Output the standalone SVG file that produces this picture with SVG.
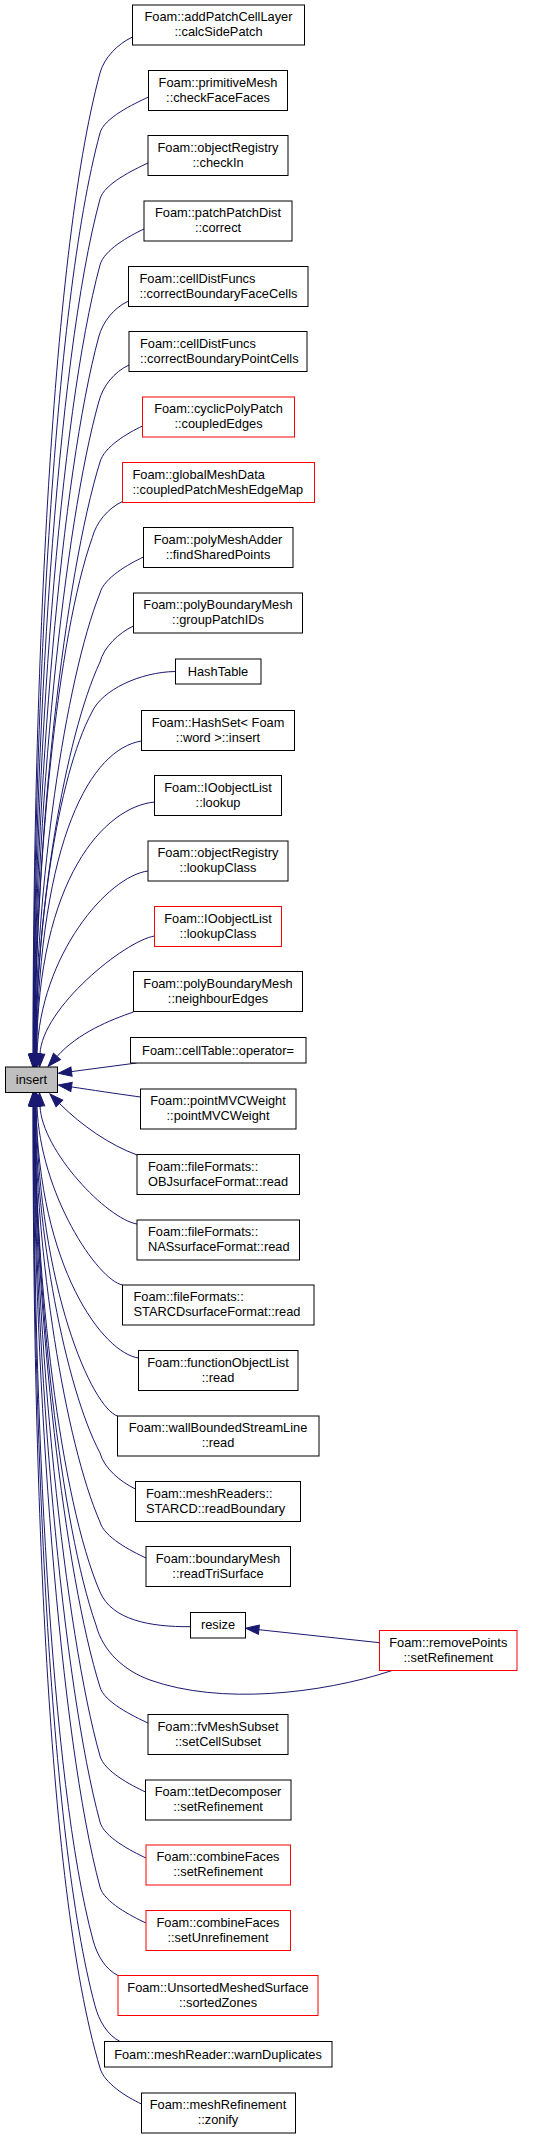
<svg xmlns="http://www.w3.org/2000/svg" width="533" height="2139" viewBox="0 0 533 2139">
<style>
.node rect{fill:#fff;stroke:#000;stroke-width:1}
.node.red rect{stroke:#ff0000}
.node.root rect{fill:#bfbfbf}
.node text{font-family:"Liberation Sans",Arial,Helvetica,sans-serif;font-size:12.8px;fill:#000;text-anchor:middle}
.node.left text{text-anchor:start}
#edges path{fill:none;stroke:#191970;stroke-width:1;marker-end:url(#ah)}
</style>
<defs>
<marker id="ah" markerUnits="userSpaceOnUse" markerWidth="14" markerHeight="10" refX="0" refY="4.7" orient="auto" overflow="visible">
<path d="M0,0 L13.3,4.7 L0,9.4 Z" fill="#191970" stroke="#191970" stroke-width="1"/>
</marker>
</defs>
<rect width="533" height="2139" fill="#fff"/>
<g id="edges">
<path d="M132.5,37 C117.5,44 104,58 100,73 C49.5,260 33,703 33,1054"/>
<path d="M148.5,97 C133.5,104 104,118 100,133 C52.6,308 33.3,724 33.3,1054"/>
<path d="M148,163 C133,170 104,184 100,199 C56,362 33.6,747 33.6,1054"/>
<path d="M144,229 C129,236 104,250 100,265 C59.4,415 33.9,770 33.9,1054"/>
<path d="M128.5,301 C113.5,308 102.7,322 98.7,337 C61.8,473 34.2,796 34.2,1054"/>
<path d="M129,365 C114,372 103,386 99,401 C64,525 34.5,819 34.5,1054"/>
<path d="M142.5,426 C127.5,433 104,447 100,462 C65,575 34.8,841 34.8,1054"/>
<path d="M122.5,501.5 C107.5,508.5 96.3,522.5 92.3,537.5 C57.3,636 35.1,868 35.1,1054"/>
<path d="M143.5,557 C128.5,564 104,578 100,593 C65,681 35.4,888 35.4,1054"/>
<path d="M133.5,626 C118.5,633 104,647 100,662 C65,737 35.7,913 35.7,1054"/>
<path d="M175.5,671.5 C140,672 102,690 92,712 C57,777 36,931 36,1054"/>
<path d="M141.5,741 C91.5,749 40,836 36.3,1054"/>
<path d="M154.5,802 C104.5,807 38,878 36.6,1054"/>
<path d="M148,871 C108,876 40,955 37,1054"/>
<path d="M154.5,936 C124.5,941 42,1008 40,1054"/>
<path d="M133.5,1012 C110,1020 78,1033 57,1056.5"/>
<path d="M136.5,1063 L71.5,1071.6"/>
<path d="M140.5,1097 C115,1093.5 92,1090 71.5,1086.9"/>
<path d="M137,1155 C110,1145 82,1126 59.4,1103.4"/>
<path d="M137,1224 C107,1219 42,1151 40,1106"/>
<path d="M122.5,1285 C97.5,1280 40,1194 37,1106"/>
<path d="M138.5,1358 C103.5,1353 39,1269 36,1106"/>
<path d="M117.5,1416 C92.5,1408 39,1290 36,1106"/>
<path d="M135.5,1489 C120.5,1482 104,1468 100,1453 C65,1386.5 35.5,1229 35.5,1106"/>
<path d="M146,1558 C131,1551 104,1537 100,1522 C65,1442 35.3,1254 35.3,1106"/>
<path d="M190.5,1626.7 C150,1627 112,1620 100,1592 C60,1499 35,1279 35,1106"/>
<path d="M391.7,1670.7 C320,1694 220,1705 150,1680 C125,1671 103,1652 96,1625 C61,1526 35,1291 35,1106"/>
<path d="M148,1723 C133,1716 104,1702 100,1687 C65,1576 34.7,1313 34.7,1106"/>
<path d="M145.5,1792 C130.5,1785 104,1771 100,1756 C65,1632 34.4,1338 34.4,1106"/>
<path d="M146,1858 C131,1851 104,1837 100,1822 C63,1685 34.1,1362 34.1,1106"/>
<path d="M146,1923 C131,1916 104,1902 100,1887 C60,1738 33.8,1385 33.8,1106"/>
<path d="M118,1975.5 C105,1969 97,1955 93,1940 C50,1781 33.5,1404 33.5,1106"/>
<path d="M120,2041.5 C107,2034.7 99,2020.7 95,2005.7 C48.7,1834 33.2,1428 33.2,1106"/>
<path d="M141.5,2104 C126.5,2097 104,2083 100,2068 C45,1885 33,1450 33,1106"/>
<path d="M379.5,1642.7 L258.9,1629.7"/>
</g>
<g id="insert" class="node root"><rect x="5.5" y="1067" width="52" height="25.5"/><text x="31.5" y="1083.5">insert</text></g>
<g id="n1" class="node"><rect x="132.5" y="5" width="172" height="40"/><text x="218.5" y="21">Foam::addPatchCellLayer</text><text x="218.5" y="36">::calcSidePatch</text></g>
<g id="n2" class="node"><rect x="148.5" y="70.5" width="139" height="40"/><text x="218" y="86.5">Foam::primitiveMesh</text><text x="218" y="101.5">::checkFaceFaces</text></g>
<g id="n3" class="node"><rect x="148" y="135.5" width="140" height="40"/><text x="218" y="151.5">Foam::objectRegistry</text><text x="218" y="166.5">::checkIn</text></g>
<g id="n4" class="node"><rect x="144" y="201" width="148" height="40"/><text x="218" y="217">Foam::patchPatchDist</text><text x="218" y="232">::correct</text></g>
<g id="n5" class="node left"><rect x="128.5" y="266.5" width="179.5" height="40"/><text x="139.5" y="282.5">Foam::cellDistFuncs</text><text x="139.5" y="297.5">::correctBoundaryFaceCells</text></g>
<g id="n6" class="node left"><rect x="129" y="331.5" width="178" height="40"/><text x="140" y="347.5">Foam::cellDistFuncs</text><text x="140" y="362.5">::correctBoundaryPointCells</text></g>
<g id="n7" class="node red"><rect x="142.5" y="397" width="152" height="40"/><text x="218.5" y="413">Foam::cyclicPolyPatch</text><text x="218.5" y="428">::coupledEdges</text></g>
<g id="n8" class="node red left"><rect x="122.5" y="462.5" width="192" height="40"/><text x="132.5" y="478.5">Foam::globalMeshData</text><text x="132.5" y="493.5">::coupledPatchMeshEdgeMap</text></g>
<g id="n9" class="node"><rect x="143.5" y="527.5" width="149.5" height="40"/><text x="218" y="543.5">Foam::polyMeshAdder</text><text x="218" y="558.5">::findSharedPoints</text></g>
<g id="n10" class="node"><rect x="133.5" y="593" width="169" height="40"/><text x="218" y="609">Foam::polyBoundaryMesh</text><text x="218" y="624">::groupPatchIDs</text></g>
<g id="n11" class="node"><rect x="175.5" y="659" width="85.5" height="25"/><text x="218" y="675.5">HashTable</text></g>
<g id="n12" class="node"><rect x="141.5" y="710.5" width="153" height="40"/><text x="218" y="726.5">Foam::HashSet&lt; Foam</text><text x="218" y="741.5">::word &gt;::insert</text></g>
<g id="n13" class="node"><rect x="154.5" y="775.5" width="127" height="40"/><text x="218" y="791.5">Foam::IOobjectList</text><text x="218" y="806.5">::lookup</text></g>
<g id="n14" class="node"><rect x="148" y="841" width="140" height="40"/><text x="218" y="857">Foam::objectRegistry</text><text x="218" y="872">::lookupClass</text></g>
<g id="n15" class="node red"><rect x="154.5" y="906.5" width="127" height="40"/><text x="218" y="922.5">Foam::IOobjectList</text><text x="218" y="937.5">::lookupClass</text></g>
<g id="n16" class="node"><rect x="133.5" y="971.5" width="169" height="40"/><text x="218" y="987.5">Foam::polyBoundaryMesh</text><text x="218" y="1002.5">::neighbourEdges</text></g>
<g id="n17" class="node"><rect x="130.5" y="1037.5" width="175.5" height="25.5"/><text x="218" y="1054.5">Foam::cellTable::operator=</text></g>
<g id="n18" class="node"><rect x="140.5" y="1089" width="155.5" height="40"/><text x="218" y="1105">Foam::pointMVCWeight</text><text x="218" y="1120">::pointMVCWeight</text></g>
<g id="n19" class="node left"><rect x="137" y="1154.5" width="162.5" height="40"/><text x="148" y="1170.5">Foam::fileFormats::</text><text x="148" y="1185.5">OBJsurfaceFormat::read</text></g>
<g id="n20" class="node left"><rect x="137" y="1220" width="162.5" height="40"/><text x="148" y="1236">Foam::fileFormats::</text><text x="148" y="1251">NASsurfaceFormat::read</text></g>
<g id="n21" class="node left"><rect x="122.5" y="1285" width="191.5" height="40"/><text x="133.5" y="1301">Foam::fileFormats::</text><text x="133.5" y="1316">STARCDsurfaceFormat::read</text></g>
<g id="n22" class="node"><rect x="138.5" y="1350.5" width="159.5" height="40"/><text x="218" y="1366.5">Foam::functionObjectList</text><text x="218" y="1381.5">::read</text></g>
<g id="n23" class="node"><rect x="117.5" y="1416" width="201.5" height="40"/><text x="218" y="1432">Foam::wallBoundedStreamLine</text><text x="218" y="1447">::read</text></g>
<g id="n24" class="node left"><rect x="135.5" y="1481.5" width="165" height="40"/><text x="146" y="1497.5">Foam::meshReaders::</text><text x="146" y="1512.5">STARCD::readBoundary</text></g>
<g id="n25" class="node"><rect x="146" y="1546.5" width="144.5" height="40"/><text x="218" y="1562.5">Foam::boundaryMesh</text><text x="218" y="1577.5">::readTriSurface</text></g>
<g id="resize" class="node"><rect x="190.5" y="1612.5" width="55" height="25.5"/><text x="218" y="1629">resize</text></g>
<g id="removePoints" class="node red"><rect x="379.5" y="1630.5" width="137.5" height="40"/><text x="448.3" y="1646.5">Foam::removePoints</text><text x="448.3" y="1661.5">::setRefinement</text></g>
<g id="n28" class="node"><rect x="148" y="1714.5" width="140" height="40"/><text x="218" y="1730.5">Foam::fvMeshSubset</text><text x="218" y="1745.5">::setCellSubset</text></g>
<g id="n29" class="node"><rect x="145.5" y="1780" width="145.5" height="40"/><text x="218" y="1796">Foam::tetDecomposer</text><text x="218" y="1811">::setRefinement</text></g>
<g id="n30" class="node red"><rect x="146" y="1845" width="144.5" height="40"/><text x="218" y="1861">Foam::combineFaces</text><text x="218" y="1876">::setRefinement</text></g>
<g id="n31" class="node red"><rect x="146" y="1910.5" width="144.5" height="40"/><text x="218" y="1926.5">Foam::combineFaces</text><text x="218" y="1941.5">::setUnrefinement</text></g>
<g id="n32" class="node red"><rect x="118" y="1975.5" width="200" height="40"/><text x="218" y="1991.5">Foam::UnsortedMeshedSurface</text><text x="218" y="2006.5">::sortedZones</text></g>
<g id="n33" class="node"><rect x="104.5" y="2041.5" width="227.5" height="25.5"/><text x="218" y="2058.5">Foam::meshReader::warnDuplicates</text></g>
<g id="n34" class="node"><rect x="141.5" y="2093" width="154" height="40"/><text x="218" y="2109">Foam::meshRefinement</text><text x="218" y="2124">::zonify</text></g>
</svg>
